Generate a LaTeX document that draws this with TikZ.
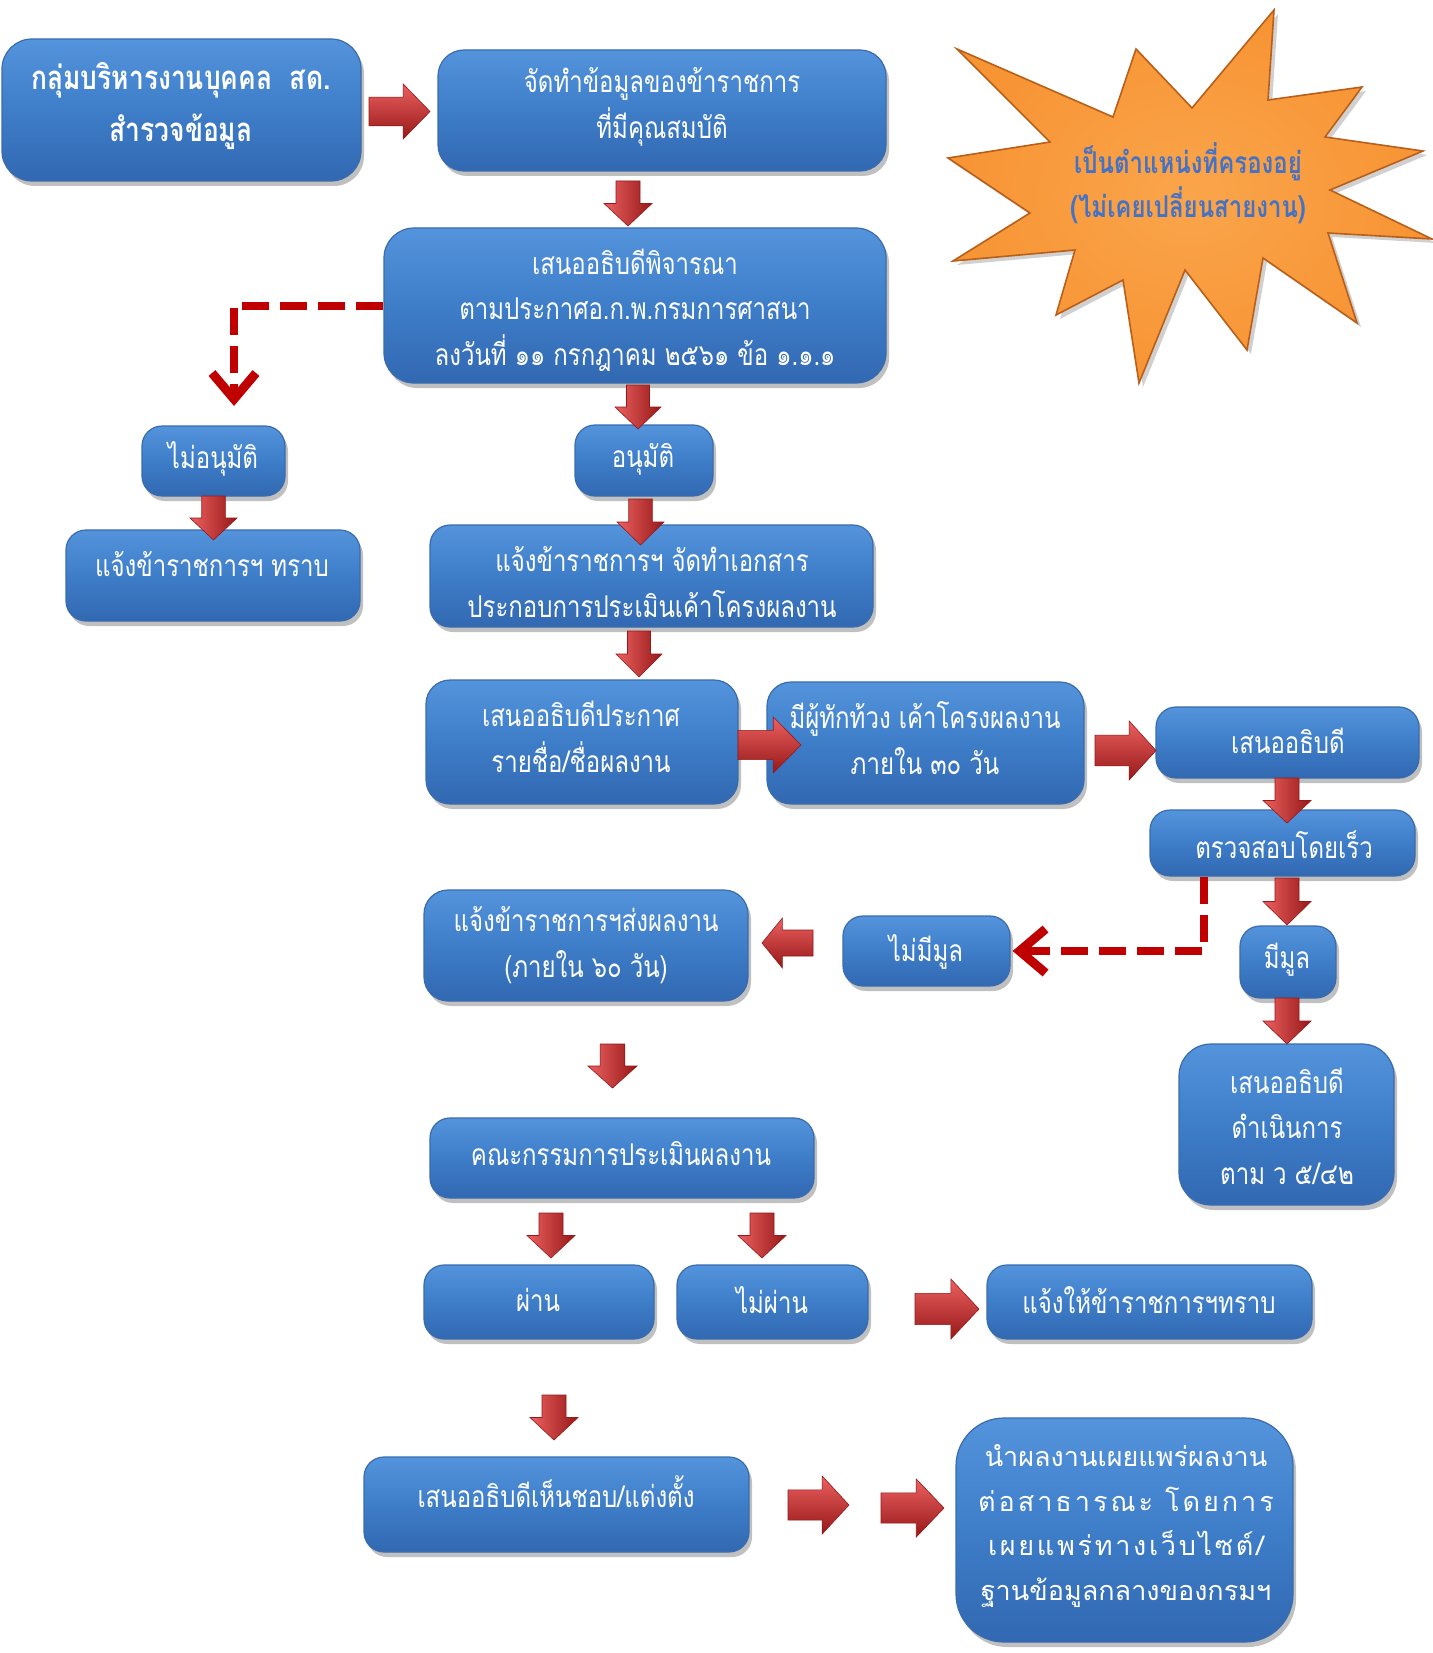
\documentclass[tikz,border=0pt]{standalone}
\usepackage{fontspec}
\newfontfamily\thai{Loma}[Script=Thai,FakeStretch=0.8]
\newfontfamily\thaiu{Loma}[Script=Thai]
\usetikzlibrary{shadows,fit,arrows.meta,calc}
\definecolor{boxtop}{RGB}{84,148,220}
\definecolor{boxmid}{RGB}{62,125,200}
\definecolor{boxbot}{RGB}{50,104,178}
\definecolor{boxedge}{RGB}{58,108,172}
\definecolor{arrlight}{RGB}{236,96,96}
\definecolor{arrmid}{RGB}{208,48,48}
\definecolor{arrdark}{RGB}{150,24,24}
\definecolor{dashred}{RGB}{192,0,0}
\definecolor{starfill}{RGB}{247,148,52}
\definecolor{starlight}{RGB}{250,165,75}
\definecolor{staredge}{RGB}{185,95,25}
\definecolor{startext}{RGB}{70,114,196}
\tikzset{
  box/.style={inner sep=0pt, rounded corners=10pt, top color=boxtop, bottom color=boxbot, middle color=boxmid,
    draw=boxedge, line width=0.6pt,
    drop shadow={shadow xshift=1.5pt, shadow yshift=-2.5pt, opacity=0.35, fill=black!70}},
  txt/.style={text=white, align=center, inner sep=0pt, font=\thai\fontsize{15}{22.8}\selectfont},
  txtb/.style={text=white, align=center, inner sep=0pt, font=\thai\bfseries\fontsize{16.5}{26}\selectfont},
  dnarrow/.style={left color=arrlight, middle color=arrmid, right color=arrdark, draw=arrdark, line width=0.3pt},
  rtarrow/.style={top color=arrlight, middle color=arrmid, bottom color=arrdark, draw=arrdark, line width=0.3pt},
  dashconn/.style={draw=dashred, line width=4pt, dash pattern=on 13.5pt off 5.5pt,
    -{Straight Barb[length=13pt,width=22pt,line width=4.5pt]}},
}
% down arrow in a bounding box: name, x1, y1, x2, y2
\newcommand\darr[5]{%
  \pgfmathsetmacro\arcx{(#2+#4)/2}\pgfmathsetmacro\arsw{0.25*(#4-#2)}\pgfmathsetmacro\arym{#3+0.5*(#5-#3)}%
  \path[dnarrow] ({\arcx-\arsw},#3) -- ({\arcx+\arsw},#3) -- ({\arcx+\arsw},\arym) -- (#4,\arym) -- (\arcx,#5)
    -- (#2,\arym) -- ({\arcx-\arsw},\arym) -- cycle;
  \coordinate (#1) at (\arcx,\arym);}
% right arrow
\newcommand\rarr[5]{%
  \pgfmathsetmacro\arcy{(#3+#5)/2}\pgfmathsetmacro\arsh{0.26*(#5-#3)}\pgfmathsetmacro\arxm{#2+0.56*(#4-#2)}%
  \path[rtarrow] (#2,{\arcy-\arsh}) -- (\arxm,{\arcy-\arsh}) -- (\arxm,#3) -- (#4,\arcy) -- (\arxm,#5)
    -- (\arxm,{\arcy+\arsh}) -- (#2,{\arcy+\arsh}) -- cycle;
  \coordinate (#1) at (\arxm,\arcy);}
% left arrow
\newcommand\larr[5]{%
  \pgfmathsetmacro\arcy{(#3+#5)/2}\pgfmathsetmacro\arsh{0.26*(#5-#3)}\pgfmathsetmacro\arxm{#4-0.6*(#4-#2)}%
  \path[rtarrow] (#4,{\arcy-\arsh}) -- (\arxm,{\arcy-\arsh}) -- (\arxm,#3) -- (#2,\arcy) -- (\arxm,#5)
    -- (\arxm,{\arcy+\arsh}) -- (#4,{\arcy+\arsh}) -- cycle;
  \coordinate (#1) at (\arxm,\arcy);}
\begin{document}
\begin{tikzpicture}[x=0.5pt,y=-0.5pt]
\useasboundingbox (0,0) rectangle (1432,1653);
\fill[white] (0,0) rectangle (1432,1653);

% star
\path[inner color=starlight, outer color=starfill, draw=staredge, line width=0.8pt,
  drop shadow={shadow xshift=2pt, shadow yshift=-2pt, opacity=0.3, fill=black!60}]
  (957,49) -- (1113,117) -- (1136,49) -- (1192,108) -- (1274,10) -- (1268,100) -- (1362,87)
  -- (1325,137) -- (1423,151) -- (1330,190) -- (1432,239) -- (1328,233) -- (1357,323)
  -- (1263,258) -- (1247,350) -- (1185,270) -- (1139,383) -- (1123,280) -- (1056,315)
  -- (1075,250) -- (953,261) -- (1030,213) -- (948,158) -- (1050,142) -- cycle;
\node[align=center, inner sep=0pt, text=startext, font=\thai\bfseries\fontsize{15}{22}\selectfont]
  (starT) at (1188,183) {เป็นตำแหน่งที่ครองอยู่\\(ไม่เคยเปลี่ยนสายงาน)};

% boxes
\node[box, rounded corners=15pt, fit={(2,39) (361,181)}] (A) {};
\node[box, rounded corners=13pt, fit={(438,50) (886,171)}] (B) {};
\node[box, rounded corners=15pt, fit={(384,228) (886,383)}] (C) {};
\node[box, fit={(142,426) (285,496)}] (D) {};
\node[box, fit={(66,530) (360,621)}] (E) {};
\node[box, fit={(575,425) (713,496)}] (F) {};
\node[box, fit={(430,525) (873,627)}] (G) {};
\node[box, rounded corners=12pt, fit={(426,680) (738,804)}] (H) {};
\node[box, rounded corners=12pt, fit={(767,682) (1084,804)}] (I) {};
\node[box, fit={(1156,707) (1419,778)}] (J) {};
\node[box, fit={(1150,810) (1415,876)}] (K) {};
\node[box, fit={(1240,926) (1336,998)}] (L) {};
\node[box, rounded corners=16pt, fit={(1179,1044) (1394,1205)}] (M) {};
\node[box, fit={(843,916) (1010,986)}] (N) {};
\node[box, rounded corners=12pt, fit={(424,890) (748,1001)}] (O) {};
\node[box, fit={(430,1118) (814,1198)}] (P) {};
\node[box, fit={(424,1265) (654,1339)}] (Q) {};
\node[box, fit={(677,1265) (868,1339)}] (R) {};
\node[box, fit={(987,1265) (1312,1339)}] (S) {};
\node[box, fit={(364,1457) (749,1552)}] (T) {};
\node[box, rounded corners=24pt, fit={(956,1418) (1293,1642)}] (U) {};

% texts
\node[txtb] (tA) at (181,106) {กลุ่มบริหารงานบุคคล\ \ สด.\\สำรวจข้อมูล};
\node[txt] (tB) at (662,107) {จัดทำข้อมูลของข้าราชการ\\ที่มีคุณสมบัติ};
\node[txt] (tC) at (635,310) {เสนออธิบดีพิจารณา\\ตามประกาศอ.ก.พ.กรมการศาสนา\\ลงวันที่ ๑๑ กรกฎาคม ๒๕๖๑ ข้อ ๑.๑.๑};
\node[txt] (tD) at (213,459) {ไม่อนุมัติ};
\node[txt] (tE) at (212,564) {แจ้งข้าราชการฯ ทราบ};
\node[txt] (tF) at (643,459) {อนุมัติ};
\node[txt] (tG) at (652,582) {แจ้งข้าราชการฯ จัดทำเอกสาร\\ประกอบการประเมินเค้าโครงผลงาน};
\node[txt] (tH) at (581,737) {เสนออธิบดีประกาศ\\รายชื่อ/ชื่อผลงาน};
\node[txt] (tI) at (925,738) {มีผู้ทักท้วง เค้าโครงผลงาน\\ภายใน ๓๐ วัน};
\node[txt] (tJ) at (1288,741) {เสนออธิบดี};
\node[txt] (tK) at (1284,845) {ตรวจสอบโดยเร็ว};
\node[txt] (tL) at (1287,960) {มีมูล};
\node[txt] (tM) at (1287,1126) {เสนออธิบดี\\ดำเนินการ\\ตาม ว ๕/๔๒};
\node[txt] (tN) at (926,952) {ไม่มีมูล};
\node[txt] (tO) at (586,945) {แจ้งข้าราชการฯส่งผลงาน\\(ภายใน ๖๐ วัน)};
\node[txt] (tP) at (621,1154) {คณะกรรมการประเมินผลงาน};
\node[txt] (tQ) at (538,1300) {ผ่าน};
\node[txt] (tR) at (772,1300) {ไม่ผ่าน};
\node[txt] (tS) at (1149,1300) {แจ้งให้ข้าราชการฯทราบ};
\node[txt] (tT) at (556,1492) {เสนออธิบดีเห็นชอบ/แต่งตั้ง};
\node[txt, font=\thaiu\fontsize{13.5}{22.3}\selectfont] (tU) at (1126,1526)
  {นำผลงานเผยแพร่ผลงาน\\{\addfontfeature{LetterSpace=11}ต่อสาธารณะ โดยการ}\\{\addfontfeature{LetterSpace=10}เผยแพร่ทางเว็บไซต์/}\\ฐานข้อมูลกลางของกรมฯ};

% block arrows
\rarr{aAB}{369}{84}{430}{139}
\darr{aBC}{604}{181}{652}{226}
\darr{aCF}{615}{385}{661}{429}
\darr{aDE}{190}{496}{237}{540}
\darr{aFG}{617}{499}{664}{545}
\darr{aGH}{616}{631}{662}{677}
\rarr{aHI}{738}{717}{801}{773}
\rarr{aIJ}{1095}{721}{1156}{780}
\darr{aJK}{1263}{778}{1311}{823}
\darr{aKL}{1263}{878}{1311}{925}
\darr{aLM}{1263}{998}{1311}{1044}
\larr{aNO}{762}{918}{813}{968}
\darr{aOP}{588}{1044}{637}{1088}
\darr{aPQ}{527}{1213}{575}{1258}
\darr{aPR}{738}{1213}{786}{1258}
\rarr{aRS}{915}{1279}{979}{1339}
\darr{aQT}{530}{1395}{578}{1440}
\rarr{aTU1}{788}{1476}{849}{1534}
\rarr{aTU2}{881}{1479}{944}{1537}

% dashed connectors
\coordinate (dj1) at (234,406);
\draw[dashconn] (C.west) -| (dj1);
\coordinate (dk) at (1204,0);
\draw[dashconn] (K.south -| dk) |- ([xshift=1pt]N.east);
\end{tikzpicture}
\end{document}
